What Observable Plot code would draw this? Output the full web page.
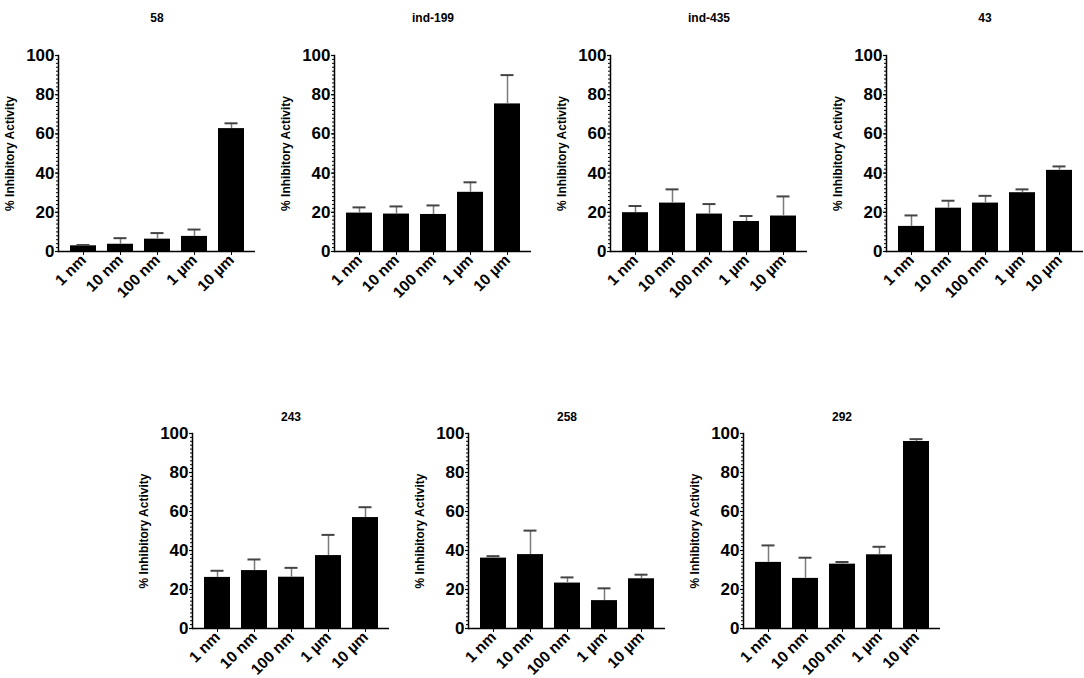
<!DOCTYPE html>
<html>
<head>
<meta charset="utf-8">
<script src="https://cdn.jsdelivr.net/npm/d3@7"></script>
<script src="https://cdn.jsdelivr.net/npm/@observablehq/plot@0.6"></script>
<style>
  html, body { margin: 0; padding: 0; background: #fff; }
  #root { position: relative; width: 1084px; height: 678px; overflow: hidden; }
  .panel { position: absolute; width: 265px; }
  .panel svg { max-width: none !important; }
</style>
</head>
<body>
<div id="root"></div>
<script>
const doses = ["1 nm", "10 nm", "100 nm", "1 µm", "10 µm"];
const titles = ["58", "ind-199", "ind-435", "43", "243", "258", "292"];
const yLabel = "% Inhibitory Activity";
const majorTicks = [0, 20, 40, 60, 80, 100];

const mean_58 = [2.9, 3.7, 6.3, 7.7, 62.7];
const sem_58 = [0.4, 3.1, 3.1, 3.5, 2.7];
const mean_ind199 = [19.6, 19.1, 18.9, 30.2, 75.3];
const sem_ind199 = [2.9, 3.9, 4.6, 5.1, 14.7];
const mean_ind435 = [19.8, 24.7, 19.1, 15.3, 18.1];
const sem_ind435 = [3.4, 7.0, 5.1, 2.8, 10.0];
const mean_43 = [12.8, 22.1, 24.7, 30.0, 41.4];
const sem_43 = [5.6, 3.8, 3.7, 1.7, 2.0];
const mean_243 = [26.2, 29.7, 26.3, 37.4, 56.9];
const sem_243 = [3.4, 5.7, 4.8, 10.6, 5.3];
const mean_258 = [36.1, 37.9, 23.3, 14.3, 25.5];
const sem_258 = [1.0, 12.3, 2.9, 6.3, 2.1];
const mean_292 = [33.9, 25.7, 33.0, 37.8, 95.9];
const sem_292 = [8.7, 10.6, 1.1, 4.1, 1.2];

const means = [mean_58, mean_ind199, mean_ind435, mean_43, mean_243, mean_258, mean_292];
const sems = [sem_58, sem_ind199, sem_ind435, sem_43, sem_243, sem_258, sem_292];

// layout: [svg left, svg top, marginTop, titleGap]
const layout = [
  [0, 0, 55, 42], [276, 0, 55, 42], [552, 0, 55, 42], [828, 0, 55, 42],
  [134, 400, 33, 21], [410, 400, 33, 21], [685, 400, 33, 21]
];

const minorTicks = d3.range(0, 101, 2);
const root = document.getElementById("root");
const font = "'Liberation Sans', Arial, sans-serif";

titles.forEach((title, i) => {
  const [left, top, mTop, tGap] = layout[i];
  const data = doses.map((d, j) => ({dose: d, mean: means[i][j], hi: means[i][j] + sems[i][j]}));
  const plotH = i < 4 ? 196 : 195;
  const chart = Plot.plot({
    width: 58 + 197 + 10,
    height: mTop + plotH + 72,
    marginLeft: 58,
    marginRight: 10,
    marginTop: mTop,
    marginBottom: 72,
    style: {fontFamily: font, fontWeight: "bold", background: "white", color: "black", overflow: "visible"},
    x: {domain: doses, padding: 0.3, label: null},
    y: {domain: [0, 100], label: null},
    marks: [
      Plot.barY(data, {x: "dose", y: "mean", fill: "black"}),
      Plot.ruleX(data, {x: "dose", y1: "mean", y2: "hi", stroke: "#7a7a7a", strokeWidth: 1.5}),
      Plot.tickY(data, {x: "dose", y: "hi", stroke: "#444", strokeWidth: 2, insetLeft: 6.5, insetRight: 6.5}),
      Plot.axisY({ticks: minorTicks, tickSize: 2, tickFormat: () => "", stroke: "black", strokeWidth: 1, label: null}),
      Plot.axisY({ticks: majorTicks, tickSize: 3, tickPadding: 1, fontSize: 17, fontWeight: "bold", fill: "black", stroke: "black", label: null, strokeWidth: 1.2}),
      Plot.axisX({tickSize: 4, tickRotate: -45, fontSize: 15.5, fontWeight: "bold", fill: "black", stroke: "black", label: null, tickPadding: 2}),
      Plot.frame({anchor: "left", stroke: "black", strokeWidth: 1.5}),
      Plot.ruleY([0], {stroke: "black", strokeWidth: 1.5}),
      Plot.text([yLabel], {text: d => d, frameAnchor: "left", textAnchor: "middle", dx: -48, rotate: -90, fontSize: 12, fontWeight: "bold", fill: "black"}),
      Plot.text([title], {text: d => d, frameAnchor: "top", dy: -tGap, fontSize: 12, fontWeight: "bold", fill: "black"})
    ]
  });
  const div = document.createElement("div");
  div.className = "panel";
  div.style.left = left + "px";
  div.style.top = top + "px";
  div.appendChild(chart);
  root.appendChild(div);
});
</script>
</body>
</html>
